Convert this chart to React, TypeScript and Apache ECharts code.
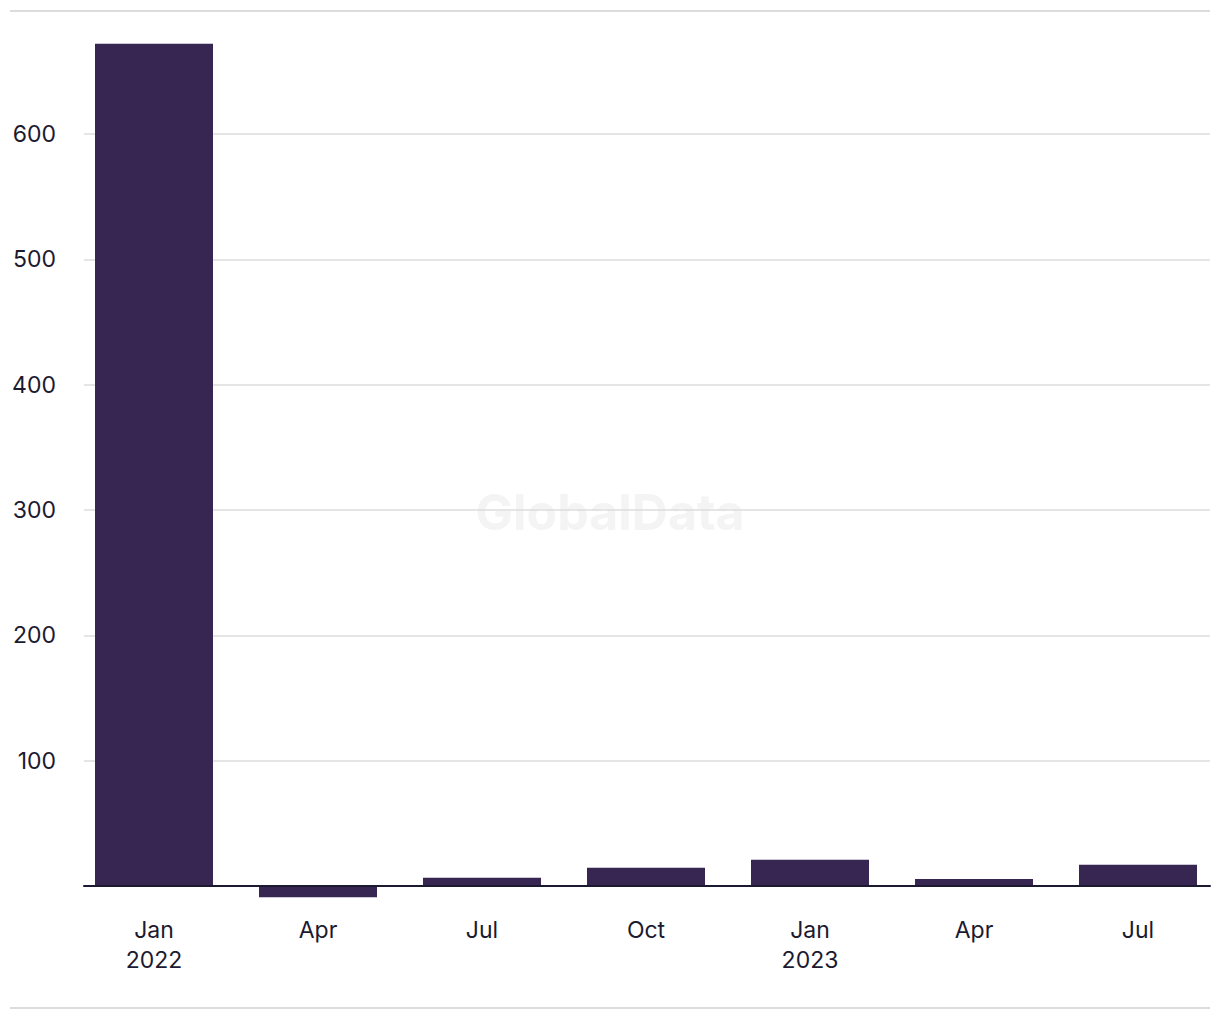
import React, { useEffect, useRef } from "react";
import * as echarts from "echarts";

const categories = ["Jan\n2022", "Apr", "Jul", "Oct", "Jan\n2023", "Apr", "Jul"];
const values = [672, -9, 6.5, 14.5, 21, 5.5, 17];
const yMin = -100;
const yMax = 700;
const yInterval = 100;

const TEXT = "#1b1a30";
const BAR = "#372552";
const GRID = "#dcdcdc";

export default function App() {
  const ref = useRef<HTMLDivElement>(null);
  useEffect(() => {
    document.body.style.margin = "0";
    const chart = echarts.init(ref.current!, undefined, { renderer: "svg" });
    const top = 1020 - 1011.33;
    chart.setOption({
      animation: false,
      backgroundColor: "#ffffff",
      textStyle: { fontFamily: "Inter" },
      grid: [
        { left: 84, right: 10, top: top, bottom: top, outerBoundsMode: "none", containLabel: false },
        { left: 72, right: 0, top: top, bottom: top, outerBoundsMode: "none", containLabel: false },
      ],
      xAxis: [
        {
          gridIndex: 0,
          type: "value",
          min: 0,
          max: 1,
          z: 10,
          axisLine: { show: true, onZero: true, lineStyle: { color: TEXT, width: 2 } },
          axisTick: { show: false },
          axisLabel: { show: false },
          splitLine: { show: false },
        },
        {
          gridIndex: 1,
          type: "category",
          data: categories,
          position: "bottom",
          offset: -125.33,
          axisLine: { show: false, onZero: false },
          axisTick: { show: false },
          axisLabel: {
            color: TEXT,
            fontSize: 23,
            lineHeight: 30,
            margin: 29,
            fontFamily: "Inter",
          },
          splitLine: { show: false },
        },
      ],
      yAxis: [
        {
          gridIndex: 0,
          type: "value",
          min: yMin,
          max: yMax,
          interval: yInterval,
          axisLine: { show: false },
          axisTick: { show: false },
          axisLabel: {
            color: TEXT,
            fontSize: 23,
            margin: 28,
            fontFamily: "Inter",
            showMinLabel: false,
            showMaxLabel: false,
            formatter: (v: number) => (v === 0 || v <= yMin || v >= yMax ? "" : String(v)),
          },
          splitLine: {
            show: true,
            showMinLine: false,
            showMaxLine: false,
            lineStyle: { color: GRID, width: 1.5 },
          },
        },
        {
          gridIndex: 1,
          type: "value",
          min: yMin,
          max: yMax,
          interval: yInterval,
          axisLine: { show: false },
          axisTick: { show: false },
          axisLabel: { show: false },
          splitLine: { show: false },
        },
      ],
      graphic: [
        {
          type: "text",
          left: "center",
          top: 487,
          z: 0,
          silent: true,
          style: {
            text: "GlobalData",
            fontSize: 50,
            fontWeight: "bold",
            fontFamily: "Inter",
            fill: "#f4f4f4",
          },
        },
        {
          type: "line",
          shape: { x1: 10, y1: 11, x2: 1210, y2: 11 },
          style: { stroke: GRID, lineWidth: 2 },
        },
        {
          type: "line",
          shape: { x1: 10, y1: 1008, x2: 1210, y2: 1008 },
          style: { stroke: GRID, lineWidth: 2 },
        },
      ],
      series: [
        {
          type: "bar",
          xAxisIndex: 1,
          yAxisIndex: 1,
          data: values,
          barWidth: 118,
          itemStyle: { color: BAR },
        },
      ],
    });
    return () => chart.dispose();
  }, []);
  return (
    <div
      ref={ref}
      style={{ position: "absolute", left: 0, top: 0, width: 1220, height: 1020 }}
    />
  );
}
